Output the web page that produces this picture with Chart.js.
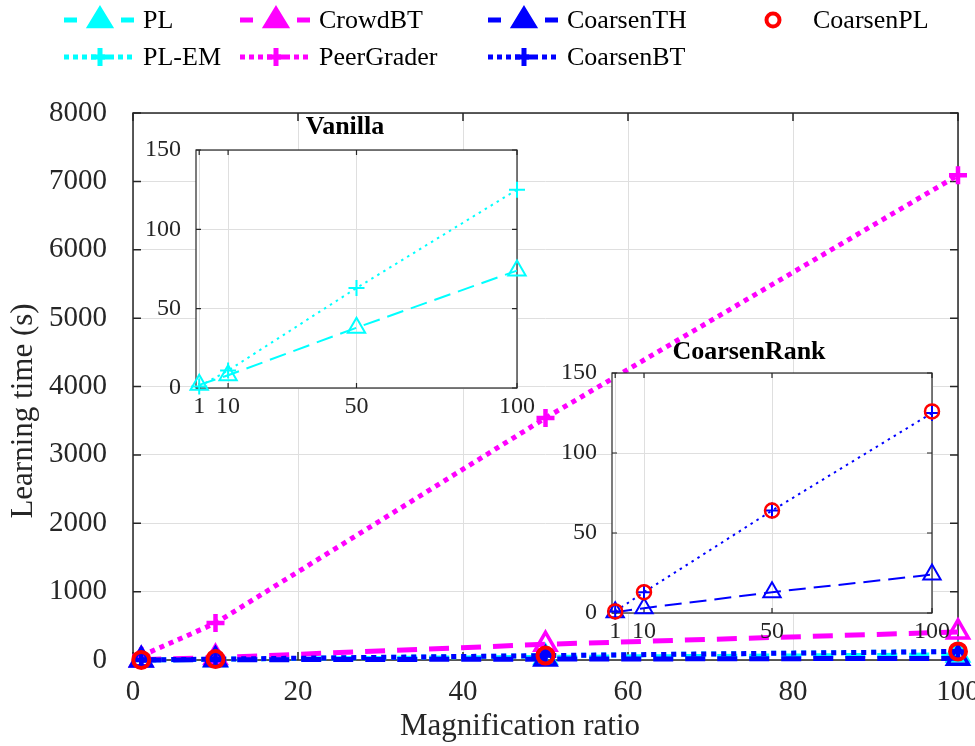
<!DOCTYPE html>
<html>
<head>
<meta charset="utf-8">
<script src="https://cdn.jsdelivr.net/npm/chart.js@4.4.1/dist/chart.umd.min.js"></script>
<style>
    html, body { margin: 0; padding: 0; background: #fff; }
    #wrap { position: relative; width: 975px; height: 746px; }
    #wrap canvas { position: absolute; }
</style>
</head>
<body>
<div id="wrap">
    <canvas id="mainChart" width="975" height="746" style="left:0;top:0;width:975px;height:746px"></canvas>
    <canvas id="vanillaChart" width="418" height="320" style="left:136px;top:108px;width:418px;height:320px"></canvas>
    <canvas id="coarsenChart" width="434" height="320" style="left:532px;top:333px;width:434px;height:320px"></canvas>
</div>
<script>
// Magnification ratios (x) and learning times in seconds (y)
const ratios = [1, 10, 50, 100];
const timePL = [2, 8, 38, 74];
const timePLEM = [1, 11, 63, 125];
const timeCrowdBT = [5, 35, 230, 410];
const timePeerGrader = [60, 540, 3540, 7090];
const timeCoarsenTH = [0.5, 3, 13, 24];
const timeCoarsenBT = [1, 13, 64, 125];
const timeCoarsenPL = [1, 13, 64, 126];

// Tick labels
const mainYTicks = [0, 1000, 2000, 3000, 4000, 5000, 6000, 7000, 8000];
const mainXTicks = [0, 20, 40, 60, 80, 100];
const insetXTicks = [1, 10, 50, 100];
const insetYTicks = [0, 50, 100, 150];

const CYAN = '#00ffff';
const MAGENTA = '#ff00ff';
const BLUE = '#0000ff';
const RED = '#ff0000';
const AXIS = '#262626';
const GRID = '#dfdfdf';
const FONT = '"Liberation Serif", "Times New Roman", serif';

Chart.defaults.font.family = FONT;
Chart.defaults.color = AXIS;
Chart.defaults.animation = false;

const toPoints = (ys) => ratios.map((x, i) => ({ x: x, y: ys[i] }));

// Line styles per series
const styles = {
    'PL':         { color: CYAN,    dash: 'dashed', marker: 'triangle' },
    'PL-EM':      { color: CYAN,    dash: 'dotted', marker: 'cross' },
    'CrowdBT':    { color: MAGENTA, dash: 'dashed', marker: 'triangle' },
    'PeerGrader': { color: MAGENTA, dash: 'dotted', marker: 'cross' },
    'CoarsenTH':  { color: BLUE,    dash: 'dashed', marker: 'triangle' },
    'CoarsenBT':  { color: BLUE,    dash: 'dotted', marker: 'cross' },
    'CoarsenPL':  { color: RED,     dash: 'none',   marker: 'circle' }
};

/**
 * Build a dataset for either the big plot or an inset
 */
function makeDataset(label, values, big, order) {
    const s = styles[label];
    const markerSize = {
        triangle: big ? 12 : 10,
        cross: big ? 9 : 8,
        circle: big ? 8 : 7
    };
    const markerWidth = {
        triangle: big ? 3.5 : 2,
        cross: big ? 4.5 : 2,
        circle: big ? 4 : 2.5
    };
    let dash = [];
    if (s.dash === 'dashed') dash = big ? [20, 12] : [17, 8];
    if (s.dash === 'dotted') dash = big ? [5, 5] : [2.5, 4.5];
    return {
        label: label,
        data: toPoints(values),
        borderColor: s.color,
        backgroundColor: 'transparent',
        borderWidth: big ? 5 : 2,
        borderDash: dash,
        showLine: s.dash !== 'none',
        pointStyle: s.marker,
        pointRadius: markerSize[s.marker],
        pointBorderWidth: markerWidth[s.marker],
        pointBorderColor: s.color,
        pointBackgroundColor: 'transparent',
        tension: 0,
        clip: false,
        order: order
    };
}

/**
 * Box around the plot area with inward tick marks, plus optional white fill
 */
const boxPlugin = {
    id: 'boxTicks',
    beforeDraw(chart, args, opts) {
        if (!opts.fill) return;
        const a = chart.chartArea;
        const ctx = chart.ctx;
        ctx.save();
        ctx.fillStyle = '#ffffff';
        ctx.fillRect(a.left, a.top, a.width, a.height);
        ctx.restore();
    },
    beforeDatasetsDraw(chart, args, opts) {
        const { ctx, chartArea: a, scales: { x, y } } = chart;
        const len = opts.tickLength;
        ctx.save();
        ctx.strokeStyle = AXIS;
        ctx.lineWidth = opts.lineWidth;
        ctx.beginPath();
        x.ticks.forEach(t => {
            const px = x.getPixelForValue(t.value);
            ctx.moveTo(px, a.bottom); ctx.lineTo(px, a.bottom - len);
            ctx.moveTo(px, a.top); ctx.lineTo(px, a.top + len);
        });
        y.ticks.forEach(t => {
            const py = y.getPixelForValue(t.value);
            ctx.moveTo(a.left, py); ctx.lineTo(a.left + len, py);
            ctx.moveTo(a.right, py); ctx.lineTo(a.right - len, py);
        });
        ctx.stroke();
        ctx.strokeRect(a.left, a.top, a.width, a.height);
        ctx.restore();
    }
};

/**
 * Axis titles of the main plot (they sit a bit off-centre in the original)
 */
const axisTitlePlugin = {
    id: 'axisTitles',
    afterDraw(chart) {
        const ctx = chart.ctx;
        ctx.save();
        ctx.fillStyle = AXIS;
        ctx.font = '31px ' + FONT;
        ctx.textAlign = 'center';
        ctx.textBaseline = 'alphabetic';
        ctx.fillText('Magnification ratio', 520, 735);
        ctx.translate(32, 411);
        ctx.rotate(-Math.PI / 2);
        ctx.fillText('Learning time (s)', 0, 0);
        ctx.restore();
    }
};

/**
 * Draw a marker for the legend
 */
function drawMarker(ctx, marker, x, y, color, filled) {
    ctx.save();
    ctx.strokeStyle = color;
    ctx.fillStyle = color;
    ctx.setLineDash([]);
    ctx.beginPath();
    if (marker === 'triangle') {
        const r = 13;
        ctx.moveTo(x, y - r);
        ctx.lineTo(x + r * 0.95, y + r * 0.55);
        ctx.lineTo(x - r * 0.95, y + r * 0.55);
        ctx.closePath();
        ctx.lineWidth = 2;
        if (filled) ctx.fill();
        ctx.stroke();
    } else if (marker === 'cross') {
        const r = 9;
        ctx.lineWidth = 5;
        ctx.moveTo(x - r, y); ctx.lineTo(x + r, y);
        ctx.moveTo(x, y - r); ctx.lineTo(x, y + r);
        ctx.stroke();
    } else {
        ctx.lineWidth = 4;
        ctx.arc(x, y, 6.5, 0, Math.PI * 2);
        ctx.stroke();
    }
    ctx.restore();
}

/**
 * Two-row legend above the main plot
 */
const legendPlugin = {
    id: 'topLegend',
    afterDraw(chart) {
        const ctx = chart.ctx;
        const rows = [20, 57];
        const entries = [
            { label: 'PL', x: 64, row: 0 },
            { label: 'PL-EM', x: 64, row: 1 },
            { label: 'CrowdBT', x: 240, row: 0 },
            { label: 'PeerGrader', x: 240, row: 1 },
            { label: 'CoarsenTH', x: 488, row: 0 },
            { label: 'CoarsenBT', x: 488, row: 1 },
            { label: 'CoarsenPL', x: 737, row: 0 }
        ];
        entries.forEach(e => {
            const s = styles[e.label];
            const y = rows[e.row];
            if (s.dash !== 'none') {
                ctx.save();
                ctx.strokeStyle = s.color;
                ctx.lineWidth = 5;
                ctx.setLineDash(s.dash === 'dashed' ? [13, 44] : [5, 4]);
                ctx.beginPath();
                ctx.moveTo(e.x, y);
                ctx.lineTo(e.x + 71, y);
                ctx.stroke();
                ctx.restore();
            }
            drawMarker(ctx, s.marker, e.x + 36, y, s.color, true);
            ctx.save();
            ctx.fillStyle = '#000';
            ctx.font = '26px ' + FONT;
            ctx.textBaseline = 'middle';
            ctx.fillText(e.label, e.x + (s.dash === 'none' ? 76 : 79), y + 1);
            ctx.restore();
        });
    }
};

// Fixes the axis sizes and removes the extra room Chart.js keeps for edge labels
function fixAxis(size, padRight) {
    return (scale) => {
        if (scale.isHorizontal()) scale.height = size; else scale.width = size;
        scale.paddingLeft = 0;
        scale.paddingRight = padRight || 0;
        scale.paddingTop = 0;
        scale.paddingBottom = 0;
    };
}

// Main chart
new Chart(document.getElementById('mainChart'), {
    type: 'scatter',
    data: {
        datasets: [
            makeDataset('PL', timePL, true, 7),
            makeDataset('PL-EM', timePLEM, true, 6),
            makeDataset('CrowdBT', timeCrowdBT, true, 5),
            makeDataset('PeerGrader', timePeerGrader, true, 4),
            makeDataset('CoarsenTH', timeCoarsenTH, true, 3),
            makeDataset('CoarsenBT', timeCoarsenBT, true, 2),
            makeDataset('CoarsenPL', timeCoarsenPL, true, 1)
        ]
    },
    options: {
        responsive: false,
        devicePixelRatio: 1,
        layout: { padding: { top: 113, right: 17, left: 0, bottom: 0 } },
        plugins: {
            legend: { display: false },
            tooltip: { enabled: false },
            boxTicks: { tickLength: 8, lineWidth: 1.5, fill: false }
        },
        scales: {
            x: {
                type: 'linear',
                min: 0,
                max: 100,
                afterBuildTicks: (scale) => { scale.ticks = mainXTicks.map(v => ({ value: v })); },
                afterFit: fixAxis(86),
                grid: { color: GRID, drawTicks: false },
                border: { display: false },
                ticks: { font: { size: 29 }, padding: 15, maxRotation: 0 }
            },
            y: {
                type: 'linear',
                min: 0,
                max: 8000,
                afterBuildTicks: (scale) => { scale.ticks = mainYTicks.map(v => ({ value: v })); },
                afterFit: fixAxis(133),
                grid: { color: GRID, drawTicks: false },
                border: { display: false },
                ticks: { font: { size: 29 }, padding: 26, callback: (v) => String(v) }
            }
        }
    },
    plugins: [boxPlugin, legendPlugin, axisTitlePlugin]
});

/**
 * Inset chart with its own title
 */
function makeInset(canvasId, title, datasets, axisWidth, padRight, titlePadBottom) {
    return new Chart(document.getElementById(canvasId), {
        type: 'scatter',
        data: { datasets: datasets },
        options: {
            responsive: false,
            devicePixelRatio: 1,
            layout: { padding: 0 },
            plugins: {
                legend: { display: false },
                tooltip: { enabled: false },
                title: {
                    display: true,
                    text: title,
                    color: '#000',
                    font: { size: 26, weight: 'bold' },
                    padding: { top: 4, bottom: titlePadBottom }
                },
                boxTicks: { tickLength: 5, lineWidth: 1.2, fill: true }
            },
            scales: {
                x: {
                    type: 'linear',
                    min: 0,
                    max: 100,
                    afterBuildTicks: (scale) => { scale.ticks = insetXTicks.map(v => ({ value: v })); },
                    afterFit: fixAxis(40, padRight),
                    grid: { color: GRID, drawTicks: false },
                    border: { display: false },
                    ticks: { font: { size: 24 }, padding: 4, maxRotation: 0, autoSkip: false }
                },
                y: {
                    type: 'linear',
                    min: 0,
                    max: 150,
                    afterBuildTicks: (scale) => { scale.ticks = insetYTicks.map(v => ({ value: v })); },
                    afterFit: fixAxis(axisWidth),
                    grid: { color: GRID, drawTicks: false },
                    border: { display: false },
                    ticks: { font: { size: 24 }, padding: 15 }
                }
            }
        },
        plugins: [boxPlugin]
    });
}

makeInset('vanillaChart', 'Vanilla', [
    makeDataset('PL', timePL, false, 2),
    makeDataset('PL-EM', timePLEM, false, 1)
], 60, 37, 6.8);

makeInset('coarsenChart', 'CoarsenRank', [
    makeDataset('CoarsenTH', timeCoarsenTH, false, 3),
    makeDataset('CoarsenBT', timeCoarsenBT, false, 2),
    makeDataset('CoarsenPL', timeCoarsenPL, false, 1)
], 80, 34, 4.8);
</script>
</body>
</html>
